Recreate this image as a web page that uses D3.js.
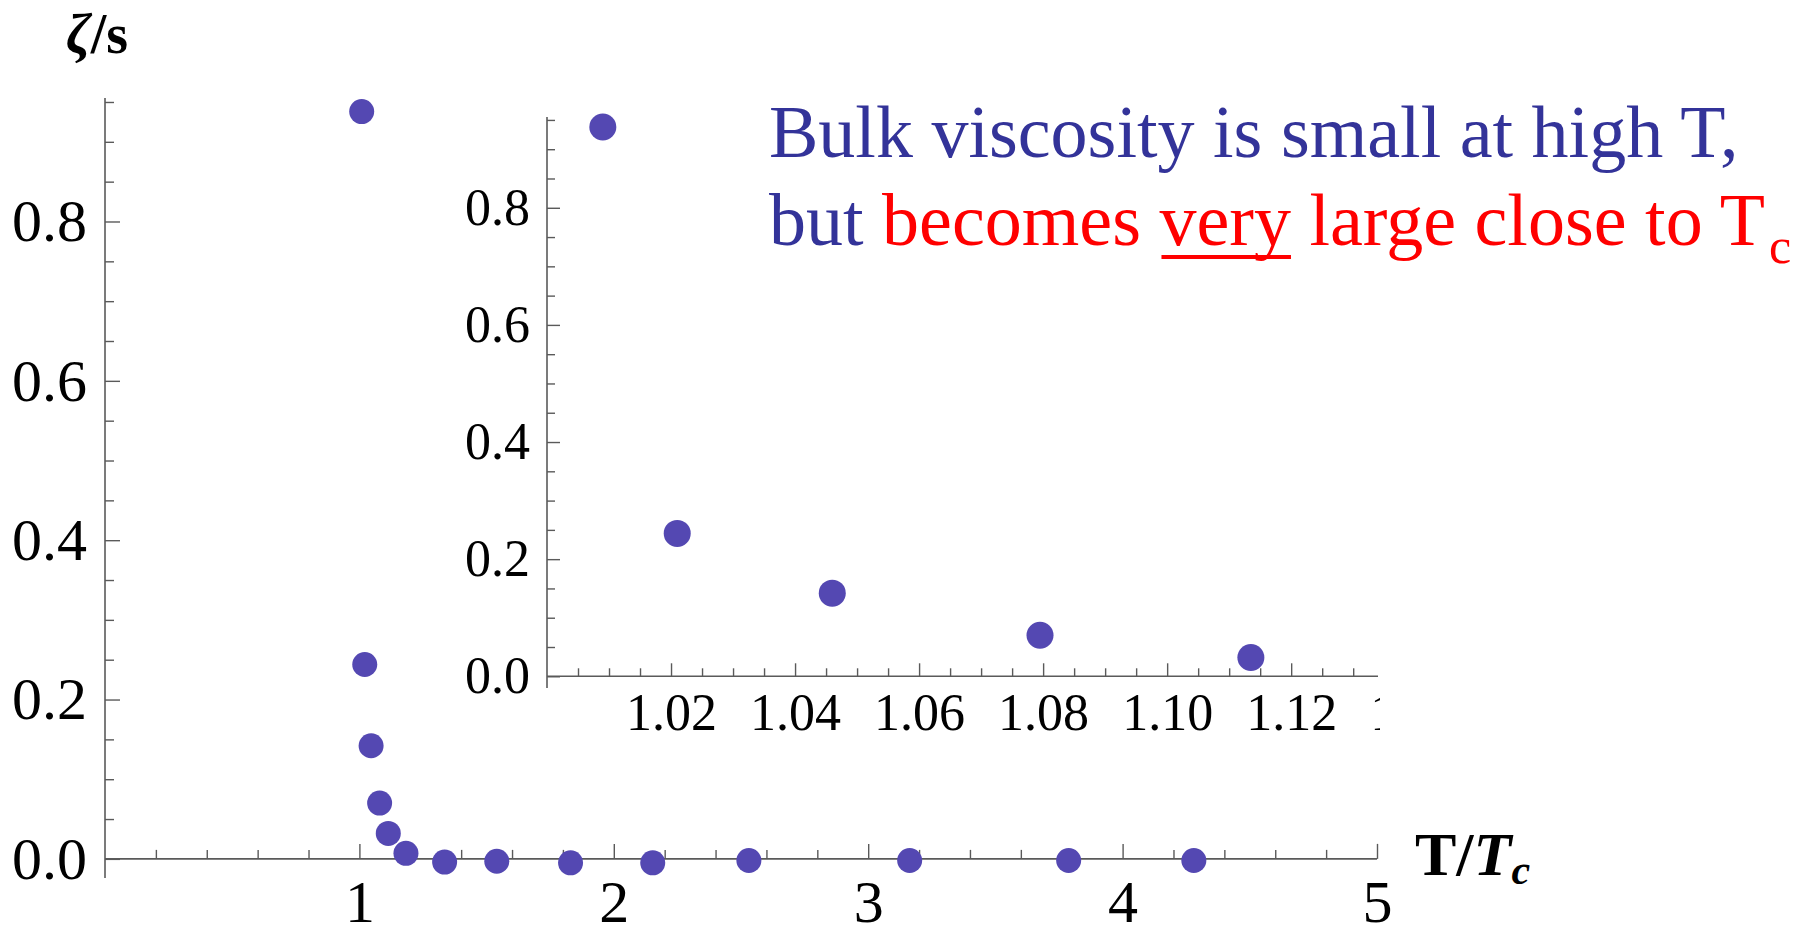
<!DOCTYPE html>
<html>
<head>
<meta charset="utf-8">
<script src="https://cdn.jsdelivr.net/npm/d3@7"></script>
<style>
  html, body { margin: 0; padding: 0; background: #ffffff; }
  svg { display: block; }
  text { font-family: "Liberation Serif", "Times New Roman", serif; }
</style>
</head>
<body>
<svg id="chart" width="1807" height="932"></svg>
<script>
// ---- data ----
const tOverTc   = [1.009, 1.021, 1.046, 1.0795, 1.1135, 1.183, 1.335, 1.54, 1.83, 2.153, 2.531, 3.163, 3.788, 4.28];
const zetaOverS = [0.938, 0.244, 0.142, 0.070, 0.032, 0.007, -0.004, -0.003, -0.005, -0.005, -0.002, -0.002, -0.002, -0.002];

const mainXTicks  = [1, 2, 3, 4, 5];
const mainYTicks  = [0.0, 0.2, 0.4, 0.6, 0.8];
const insetXTicks = [1.02, 1.04, 1.06, 1.08, 1.10, 1.12, 1.14];
const insetYTicks = [0.0, 0.2, 0.4, 0.6, 0.8];

const annotLine1 = "Bulk viscosity is small at high T,";
const annotLine2 = [
  {t: "but ", c: "blue"},
  {t: "becomes ", c: "red"},
  {t: "very", c: "red", u: true},
  {t: " large close to T", c: "red"}
];

// ---- styling ----
const dotColor = "rgb(84,72,178)";
const axisColor = "#5a5a5a";
const blue = "#333399", red = "#ff0000";

const svg = d3.select("#chart");
svg.append("rect").attr("width", 1807).attr("height", 932).attr("fill", "#fff");

const pts = tOverTc.map((x, i) => ({x, y: zetaOverS[i]}));

function drawAxes(g, xs, ys, o) {
  const xMinor = d3.range(o.xMinorStart, o.xMinorEnd + 1e-9, o.xMinorStep)
    .filter(v => !o.xTicks.some(t => Math.abs(t - v) < 1e-9));
  const yMinor = d3.range(0, o.yMinorEnd + 1e-9, o.yMinorStep)
    .filter(v => !o.yTicks.some(t => Math.abs(t - v) < 1e-9));

  const gx = g.append("g").attr("transform", `translate(0,${ys(0)})`);
  if (o.clipId) gx.attr("clip-path", `url(#${o.clipId})`);
  gx.append("g").call(d3.axisBottom(xs).tickValues(xMinor).tickSizeInner(-o.minorLen).tickSizeOuter(0).tickFormat(""))
    .call(a => a.select(".domain").remove());
  gx.append("g").call(d3.axisBottom(xs).tickValues(o.xTicks).tickSizeInner(-o.majorLen).tickSizeOuter(0)
      .tickPadding(o.xPad).tickFormat(o.xFmt))
    .call(a => a.select(".domain").remove())
    .call(a => a.selectAll("text").attr("font-size", o.fs).attr("fill", "#000")
      .attr("font-family", "Liberation Serif, Times New Roman, serif"));
  g.append("line").attr("x1", xs.range()[0]).attr("x2", xs.range()[1])
    .attr("y1", ys(0)).attr("y2", ys(0)).attr("stroke", axisColor).attr("stroke-width", 1.6);

  const gy = g.append("g").attr("transform", `translate(${xs.range()[0]},0)`);
  gy.append("g").call(d3.axisLeft(ys).tickValues(yMinor).tickSizeInner(-o.minorLen).tickSizeOuter(0).tickFormat(""))
    .call(a => a.select(".domain").remove());
  gy.append("g").call(d3.axisLeft(ys).tickValues(o.yTicks).tickSizeInner(-o.majorLen).tickSizeOuter(0)
      .tickPadding(o.yPad).tickFormat(d3.format(".1f")))
    .call(a => a.select(".domain").remove())
    .call(a => a.selectAll("text").attr("font-size", o.fs).attr("fill", "#000")
      .attr("font-family", "Liberation Serif, Times New Roman, serif"));
  g.append("line").attr("x1", xs.range()[0]).attr("x2", xs.range()[0])
    .attr("y1", ys.range()[0]).attr("y2", ys.range()[1]).attr("stroke", axisColor).attr("stroke-width", 1.6);

  g.selectAll(".tick line").attr("stroke", axisColor).attr("stroke-width", 1.4);
}

// ---- main plot ----
const xMain = d3.scaleLinear().domain([0, 5]).range([105, 1377]);
const yMain = d3.scaleLinear().domain([-0.024, 0.955]).range([878, 98]);
const gMain = svg.append("g");
drawAxes(gMain, xMain, yMain, {
  xTicks: mainXTicks, yTicks: mainYTicks,
  xMinorStart: 0.2, xMinorEnd: 5, xMinorStep: 0.2,
  yMinorEnd: 0.95, yMinorStep: 0.05,
  majorLen: 15, minorLen: 9, xPad: 21, yPad: 18, fs: 60,
  xFmt: d3.format("d")
});
gMain.append("g").selectAll("circle").data(pts).join("circle")
  .attr("cx", d => xMain(d.x)).attr("cy", d => yMain(d.y)).attr("r", 12.5)
  .attr("fill", dotColor);

// ---- inset ----
const xIn = d3.scaleLinear().domain([1.0, 1.134]).range([547, 1378]);
const yIn = d3.scaleLinear().domain([-0.02, 0.955]).range([688, 117]);
svg.append("defs").append("clipPath").attr("id", "insetClip")
  .append("rect").attr("x", -2000).attr("y", -200).attr("width", 2000 + xIn.range()[1] + 2).attr("height", 400);
const gIn = svg.append("g");
drawAxes(gIn, xIn, yIn, {
  xTicks: insetXTicks, yTicks: insetYTicks,
  xMinorStart: 1.005, xMinorEnd: 1.13, xMinorStep: 0.005,
  yMinorEnd: 0.95, yMinorStep: 0.05,
  majorLen: 13, minorLen: 8, xPad: 17, yPad: 17, fs: 52,
  xFmt: d3.format(".2f"), clipId: "insetClip"
});
gIn.append("g").selectAll("circle").data(pts.filter(d => d.x <= xIn.domain()[1])).join("circle")
  .attr("cx", d => xIn(d.x)).attr("cy", d => yIn(d.y)).attr("r", 13.5)
  .attr("fill", dotColor);

// ---- axis labels ----
const yl = svg.append("text").attr("x", 66).attr("y", 53).attr("font-size", 56).attr("font-weight", "bold");
yl.append("tspan").attr("font-style", "italic").text("ζ");
yl.append("tspan").text("/s");

const xl = svg.append("text").attr("x", 1415).attr("y", 875).attr("font-size", 62).attr("font-weight", "bold");
xl.append("tspan").text("T/");
xl.append("tspan").attr("font-style", "italic").text("T");
xl.append("tspan").attr("font-style", "italic").attr("font-size", 42).attr("dy", 9).text("c");

// ---- annotation ----
svg.append("text").attr("x", 769).attr("y", 157).attr("font-size", 74).attr("fill", blue).text(annotLine1);
const l2 = svg.append("text").attr("x", 769).attr("y", 245).attr("font-size", 74);
annotLine2.forEach(s => l2.append("tspan").attr("fill", s.c === "blue" ? blue : red).text(s.t));
l2.append("tspan").attr("fill", red).attr("font-size", 50).attr("dx", 4).attr("dy", 18).text("c");
// underline "very"
(function () {
  const node = l2.node();
  let idx = 0;
  annotLine2.forEach(s => {
    if (s.u) {
      const x0 = node.getStartPositionOfChar(idx).x;
      const x1 = node.getEndPositionOfChar(idx + s.t.length - 1).x;
      svg.append("line").attr("x1", x0 + 2).attr("x2", x1).attr("y1", 257).attr("y2", 257)
        .attr("stroke", red).attr("stroke-width", 4);
    }
    idx += s.t.length;
  });
})();
</script>
</body>
</html>
